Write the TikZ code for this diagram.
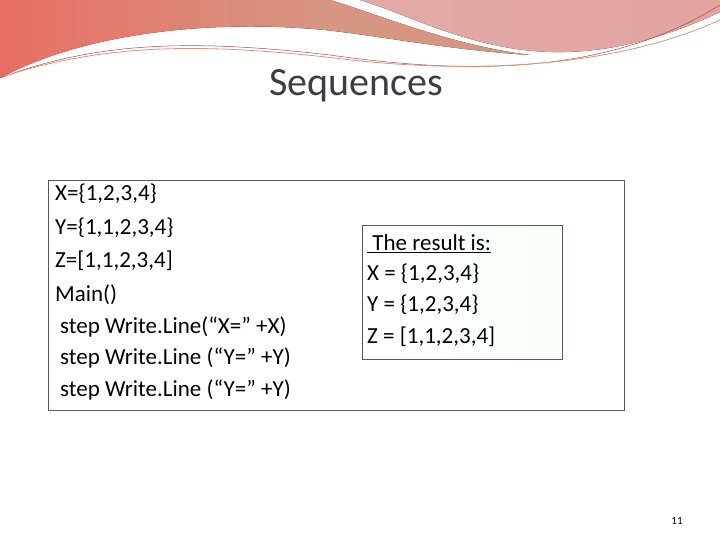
\documentclass[tikz,border=0pt]{standalone}
\usepackage{fontspec}
\setmainfont{Carlito}
\usetikzlibrary{positioning}
\definecolor{wavea}{RGB}{214,150,130}
\definecolor{waveb}{RGB}{226,170,168}
\definecolor{wavec}{RGB}{232,110,100}
\definecolor{textgray}{RGB}{60,60,70}
\begin{document}
\begin{tikzpicture}[x=1pt,y=-1pt,
			codeline/.style={anchor=west,inner sep=0pt,font=\fontsize{23}{27}\selectfont},
			box/.style={draw=gray!70!black,line width=0.6pt},
			wave/.style={draw=none}
			]
			\useasboundingbox (0,0) rectangle (720,540);
			
			%% Header waves
			\fill[wave, left color=wavec, right color=wavea] (0,0) -- (325,0) -- (325,30)
			.. controls (220,20) and (90,30) .. (0,78) -- cycle;
			\fill[wave, left color=wavea, right color=wavea] (325,0) -- (330,0) .. controls (380,15) and (450,45) .. (530,55)
			.. controls (450,50) and (380,36) .. (325,30) -- cycle;
			\fill[wave, left color=waveb, right color=waveb!90!wavec] (360,0) -- (720,0) -- (720,12)
			.. controls (650,45) and (580,60) .. (510,48) .. controls (450,38) and (400,12) .. (360,0) -- cycle;
			\draw[wavec!70!black, line width=0.5pt] (0,78) .. controls (100,40) and (200,40) .. (330,55)
			.. controls (450,72) and (600,80) .. (720,5);
			\draw[wavea, line width=0.8pt] (5,76) .. controls (110,42) and (210,44) .. (335,58)
			.. controls (460,74) and (610,70) .. (720,20);
			
			%% Title
			\node[font=\fontsize{40}{46}\selectfont, text=textgray] (title) at (356,86) {Sequences};
			
			%% Code box
			\draw[box] (48,180) rectangle (624,410);
			\node[codeline] (l1) at (55,194) {X=\{1,2,3,4\}};
			\node[codeline] (l2) at (55,228) {Y=\{1,1,2,3,4\}};
			\node[codeline] (l3) at (55,261) {Z=[1,1,2,3,4]};
			\node[codeline] (l4) at (55,295) {Main()};
			\node[codeline] (l5) at (60,327) {step Write.Line(“X=” +X)};
			\node[codeline] (l6) at (60,358) {step Write.Line (“Y=” +Y)};
			\node[codeline] (l7) at (60,390) {step Write.Line (“Y=” +Y)};
			
			%% Result box
			\shade[left color=white, right color=blue!4!green!3] (362,225) rectangle (562,359);
			\draw[box] (362,225) rectangle (562,359);
			\node[codeline] (r1) at (367,244) {\underline{\ The result is:}};
			\node[codeline] (r2) at (367,274) {X = \{1,2,3,4\}};
			\node[codeline] (r3) at (367,305) {Y = \{1,2,3,4\}};
			\node[codeline] (r4) at (367,337) {Z = [1,1,2,3,4]};
			
			%% Page number
			\node[font=\fontsize{11}{13}\selectfont\rmfamily] (page) at (677,521) {11};
			
			\end{tikzpicture}
\end{document}
